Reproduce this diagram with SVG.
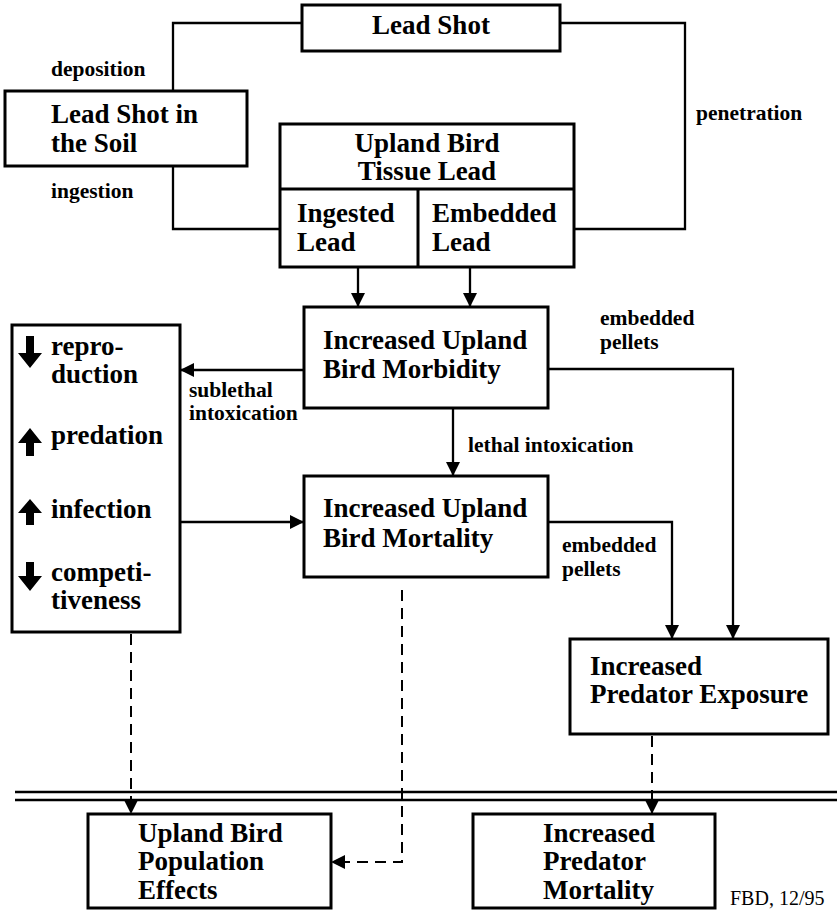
<svg xmlns="http://www.w3.org/2000/svg" width="837" height="911" viewBox="0 0 837 911" font-family="Liberation Serif, Times New Roman, serif">
<style>
.box{fill:#fff;stroke:#000;stroke-width:3}
.nodeText{font-family:'Liberation Serif','Times New Roman',serif;font-weight:bold;font-size:27px;fill:#000}
.mid{text-anchor:middle}
.edgeLabel{font-family:'Liberation Serif','Times New Roman',serif;font-weight:bold;font-size:21.5px;fill:#000}
.conn{fill:none;stroke:#000;stroke-width:2.3}
.dash{fill:none;stroke:#000;stroke-width:2;stroke-dasharray:11 7}
.note{font-family:'Liberation Serif','Times New Roman',serif;font-size:20px;fill:#000}
</style>
<defs>
<marker id="ah" markerUnits="userSpaceOnUse" markerWidth="14" markerHeight="14" viewBox="0 0 14 14" refX="14" refY="7" orient="auto">
<path d="M0,0 L14,7 L0,14 Z" fill="#000"/>
</marker>
</defs>
<rect width="837" height="911" fill="#fff"/>
<g id="connectors">
<polyline class="conn" points="302,23 173,23 173,91"/>
<polyline class="conn" points="173,166 173,229 280,229"/>
<polyline class="conn" points="560,23 685,23 685,229 574,229"/>
<line class="conn" x1="358" y1="267" x2="358" y2="307" marker-end="url(#ah)"/>
<line class="conn" x1="470" y1="267" x2="470" y2="307" marker-end="url(#ah)"/>
<line class="conn" x1="304" y1="370" x2="180" y2="370" marker-end="url(#ah)"/>
<line class="conn" x1="180" y1="522" x2="304" y2="522" marker-end="url(#ah)"/>
<line class="conn" x1="453" y1="408" x2="453" y2="476" marker-end="url(#ah)"/>
<polyline class="conn" points="548,369 733,369 733,639" marker-end="url(#ah)"/>
<polyline class="conn" points="548,522 672,522 672,639" marker-end="url(#ah)"/>
<line class="dash" x1="131" y1="634" x2="131" y2="814" marker-end="url(#ah)"/>
<polyline class="dash" points="402,590 402,862 331,862" marker-end="url(#ah)"/>
<line class="dash" x1="652" y1="736" x2="652" y2="814" marker-end="url(#ah)"/>
<line x1="15" y1="792" x2="837" y2="792" stroke="#000" stroke-width="2.5"/>
<line x1="15" y1="800" x2="837" y2="800" stroke="#000" stroke-width="2.5"/>
</g>
<g id="labels">
<text class="edgeLabel" x="51" y="76">deposition</text>
<text class="edgeLabel" x="51" y="198">ingestion</text>
<text class="edgeLabel" x="696" y="120">penetration</text>
<text class="edgeLabel" x="189" y="397">sublethal</text>
<text class="edgeLabel" x="189" y="420">intoxication</text>
<text class="edgeLabel" x="468" y="452">lethal intoxication</text>
<text class="edgeLabel" x="600" y="325">embedded</text>
<text class="edgeLabel" x="600" y="349">pellets</text>
<text class="edgeLabel" x="562" y="552">embedded</text>
<text class="edgeLabel" x="562" y="576">pellets</text>
</g>
<g id="lead-shot">
<rect class="box" x="302" y="5" width="258" height="46"/>
<text class="nodeText mid" x="431" y="34">Lead Shot</text>
</g>
<g id="lead-shot-soil">
<rect class="box" x="5" y="91" width="242" height="75"/>
<text class="nodeText" x="51" y="123">Lead Shot in</text>
<text class="nodeText" x="51" y="152">the Soil</text>
</g>
<g id="tissue-lead">
<rect class="box" x="280" y="124" width="294" height="143"/>
<line x1="280" y1="189" x2="574" y2="189" stroke="#000" stroke-width="3"/>
<line x1="418" y1="189" x2="418" y2="267" stroke="#000" stroke-width="3"/>
<text class="nodeText mid" x="427" y="152">Upland Bird</text>
<text class="nodeText mid" x="427" y="180">Tissue Lead</text>
<text class="nodeText" x="297" y="222">Ingested</text>
<text class="nodeText" x="297" y="251">Lead</text>
<text class="nodeText" x="432" y="222">Embedded</text>
<text class="nodeText" x="432" y="251">Lead</text>
</g>
<g id="morbidity">
<rect class="box" x="304" y="307" width="244" height="101"/>
<text class="nodeText" x="323" y="349">Increased Upland</text>
<text class="nodeText" x="323" y="378">Bird Morbidity</text>
</g>
<g id="mortality">
<rect class="box" x="304" y="476" width="244" height="101"/>
<text class="nodeText" x="323" y="517">Increased Upland</text>
<text class="nodeText" x="323" y="547">Bird Mortality</text>
</g>
<g id="effects">
<rect class="box" x="12" y="325" width="168" height="307"/>
<path d="M26,336 H34 V353 H42 L30,368 L18,353 H26 Z" fill="#000"/>
<path d="M30,428 L42,443 H34 V456 H26 V443 H18 Z" fill="#000"/>
<path d="M30,499 L42,513 H34 V525 H26 V513 H18 Z" fill="#000"/>
<path d="M26,562 H34 V576 H42 L30,591 L18,576 H26 Z" fill="#000"/>
<text class="nodeText" x="51" y="355">repro-</text>
<text class="nodeText" x="51" y="383">duction</text>
<text class="nodeText" x="51" y="444">predation</text>
<text class="nodeText" x="51" y="518">infection</text>
<text class="nodeText" x="51" y="581">competi-</text>
<text class="nodeText" x="51" y="609">tiveness</text>
</g>
<g id="predator-exposure">
<rect class="box" x="570" y="639" width="258" height="95"/>
<text class="nodeText" x="590" y="675">Increased</text>
<text class="nodeText" x="590" y="703">Predator Exposure</text>
</g>
<g id="population-effects">
<rect class="box" x="88" y="814" width="243" height="94"/>
<text class="nodeText" x="138" y="842">Upland Bird</text>
<text class="nodeText" x="138" y="870">Population</text>
<text class="nodeText" x="138" y="899">Effects</text>
</g>
<g id="predator-mortality">
<rect class="box" x="473" y="814" width="242" height="94"/>
<text class="nodeText" x="543" y="842">Increased</text>
<text class="nodeText" x="543" y="870">Predator</text>
<text class="nodeText" x="543" y="899">Mortality</text>
</g>
<text class="note" x="730" y="905">FBD, 12/95</text>
</svg>
